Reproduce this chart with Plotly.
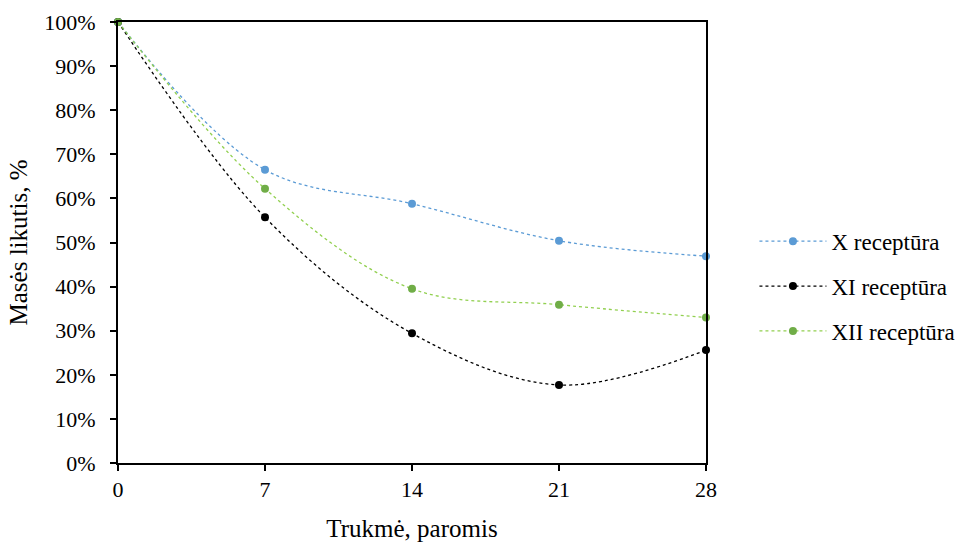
import plotly.graph_objects as go

days = [0, 7, 14, 21, 28]
x_rec = [100, 66.5, 58.8, 50.4, 46.9]
xi_rec = [100, 55.7, 29.4, 17.7, 25.6]
xii_rec = [100, 62.2, 39.5, 35.9, 33.0]
names = ["X receptūra", "XI receptūra", "XII receptūra"]
line_colors = ["#5B9BD5", "#000000", "#92D050"]
marker_colors = ["#5B9BD5", "#000000", "#70AD47"]

fig = go.Figure()
for i, (name, ys) in enumerate(zip(names, [x_rec, xi_rec, xii_rec])):
    fig.add_trace(go.Scatter(
        x=days, y=ys, name=name, mode="lines+markers",
        line=dict(color=line_colors[i], width=1.3, dash="dot", shape="spline", smoothing=1),
        marker=dict(color=marker_colors[i], size=8),
        cliponaxis=False, legendgroup=f"g{i}",
    ))

font = "Liberation Serif"
fig.update_layout(
    width=966, height=542,
    margin=dict(l=118, r=260, t=22, b=79),
    paper_bgcolor="white", plot_bgcolor="white",
    font=dict(family=font, size=22, color="black"),
    showlegend=True,
    legend=dict(xref="container", yref="container", x=0.781, y=0.472,
                yanchor="middle", xanchor="left",
                font=dict(family=font, size=23), traceorder="grouped", tracegroupgap=12,
                itemwidth=67, bgcolor="rgba(0,0,0,0)"),
    xaxis=dict(range=[0, 28], tickvals=days, ticktext=[str(d) for d in days],
               showgrid=False, zeroline=False, showline=True, linecolor="black",
               linewidth=2, mirror=True, ticks="outside", ticklen=6, tickwidth=2,
               tickcolor="black", tickfont=dict(family=font, size=22), automargin=False,
               title=dict(text="Trukmė, paromis", font=dict(family=font, size=25), standoff=18)),
    yaxis=dict(range=[0, 100], dtick=10, ticksuffix="%",
               showgrid=False, zeroline=False, showline=True, linecolor="black",
               linewidth=2, mirror=True, ticks="outside", ticklen=6, tickwidth=2,
               tickcolor="black", tickfont=dict(family=font, size=22), ticklabelstandoff=10,
               automargin=False,
               title=dict(text="Masės likutis, %", font=dict(family=font, size=25), standoff=10)),
)

fig.write_html("out.html")
